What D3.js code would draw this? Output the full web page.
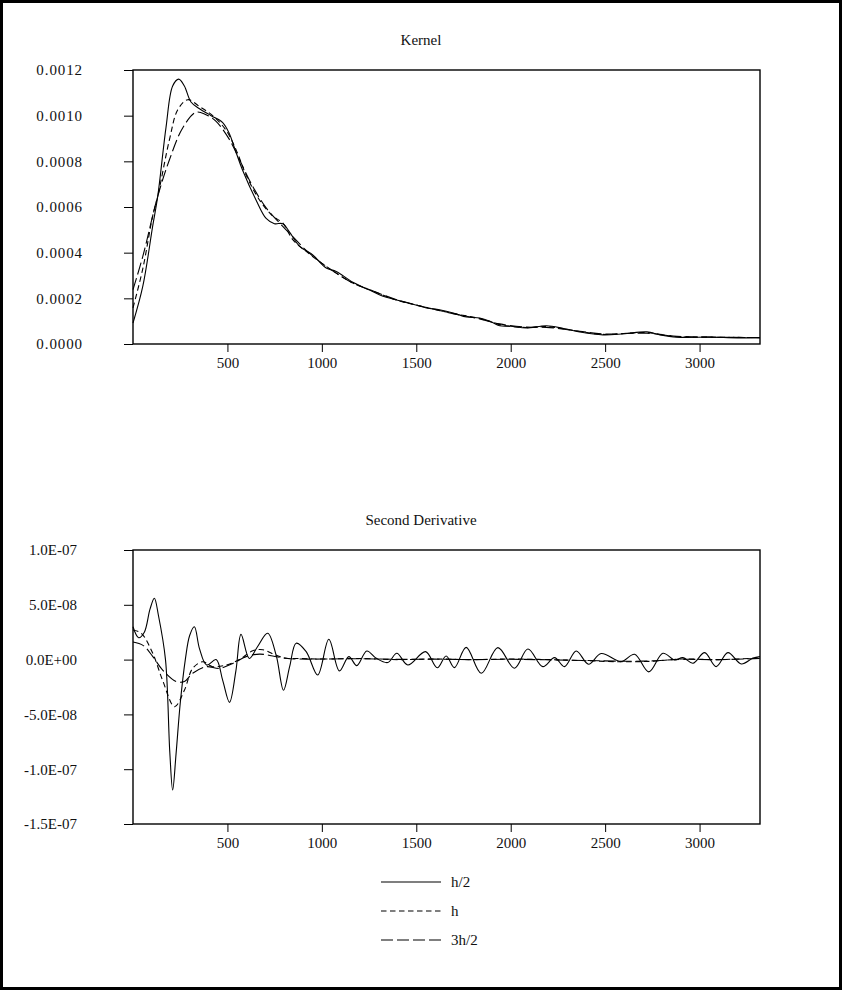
<!DOCTYPE html>
<html>
<head>
<meta charset="utf-8">
<script src="https://cdn.jsdelivr.net/npm/d3@7"></script>
<style>
  body { margin: 0; background: #fff; }
  svg text { font-family: "Liberation Serif", "DejaVu Serif", serif; font-size: 15px; fill: #111; }
</style>
</head>
<body>
<div id="chart"></div>
<script>
// series names, legend order
var seriesNames = ["h/2", "h", "3h/2"];
var xTicks = [500, 1000, 1500, 2000, 2500, 3000];
var kernelTicks = [0, 0.0002, 0.0004, 0.0006, 0.0008, 0.0010, 0.0012];
var derivTicks = [-1.5e-7, -1.0e-7, -5.0e-8, 0, 5.0e-8, 1.0e-7];

// Kernel estimates: [x, density]
var kernelHalf = [[0,0.000092],[52,0.000253],[104,0.000515],[131,0.000647],[175,0.00095],[210,0.00113],[242,0.00116],
  [272,0.00113],[307,0.00106],[352,0.00103],[414,0.00100],[475,0.00097],[511,0.00092],[537,0.00086],[581,0.00076],
  [652,0.00063],[705,0.00055],[749,0.000527],[793,0.000527],[829,0.00049],[882,0.000428],[952,0.00039],[1023,0.000333],
  [1076,0.000318],[1164,0.00027],[1253,0.000236],[1320,0.00021],[1396,0.000193],[1480,0.000175],[1554,0.000158],
  [1623,0.00015],[1700,0.000135],[1766,0.000118],[1836,0.000114],[1890,0.0001],[1942,0.00008],[2000,0.000078],
  [2083,0.00007],[2189,0.00008],[2280,0.000068],[2365,0.000053],[2488,0.00004],[2600,0.000045],[2721,0.000053],
  [2790,0.00004],[2880,0.00003],[3055,0.00003],[3200,0.000027],[3320,0.000028]];
var kernelH = [[0,0.000158],[52,0.00033],[104,0.00056],[131,0.000647],[193,0.000895],[237,0.001026],[290,0.00107],
  [352,0.00104],[422,0.001],[493,0.000936],[546,0.00085],[599,0.00074],[669,0.000632],[740,0.00056],[793,0.00053],
  [846,0.000457],[917,0.000406],[1023,0.00034],[1164,0.000267],[1253,0.000238],[1396,0.000192],[1554,0.00016],
  [1700,0.000133],[1836,0.000112],[1942,0.000085],[2083,0.000072],[2189,0.000076],[2365,0.000055],[2488,0.000042],
  [2721,0.00005],[2880,0.000032],[3055,0.00003],[3320,0.000028]];
var kernelThreeHalf = [[0,0.000238],[52,0.000384],[131,0.000647],[193,0.000807],[263,0.000946],[334,0.001015],
  [387,0.001004],[440,0.000975],[511,0.000895],[564,0.000807],[634,0.00069],[705,0.000596],[776,0.00053],[846,0.00047],
  [917,0.00041],[1023,0.00034],[1164,0.000267],[1253,0.000238],[1396,0.000194],[1554,0.00016],[1700,0.000132],
  [1836,0.00011],[1942,0.000088],[2083,0.000074],[2189,0.000073],[2365,0.000056],[2488,0.000044],[2721,0.000047],
  [2880,0.000034],[3055,0.00003],[3320,0.000028]];

// Second derivative estimates: [x, value]
var derivHalf = [[0,3.0e-8],[30,2.0e-8],[60,2.5e-8],[90,4.6e-8],[113,5.6e-8],[135,4.0e-8],[172,0],[195,-8.5e-8],
  [210,-11.9e-8],[228,-8.6e-8],[250,-4.0e-8],[277,0],[300,2.2e-8],[325,3.0e-8],[352,1.0e-8],[390,-0.5e-8],
  [440,0],[475,-1.9e-8],[511,-3.9e-8],[545,-1.0e-8],[572,2.3e-8],[616,0.1e-8],[660,1.2e-8],[713,2.4e-8],
  [758,0.4e-8],[797,-2.8e-8],[830,-0.6e-8],[864,1.5e-8],[917,0.73e-8],[978,-1.4e-8],[1037,1.85e-8],[1093,-1.03e-8],
  [1143,0.27e-8],[1185,-0.55e-8],[1238,0.79e-8],[1288,0.12e-8],[1349,-0.27e-8],[1397,0.58e-8],[1455,-0.49e-8],
  [1549,0.73e-8],[1611,-0.75e-8],[1658,0.33e-8],[1702,-0.73e-8],[1764,1.12e-8],[1844,-1.25e-8],[1932,1.09e-8],
  [2020,-0.79e-8],[2091,0.97e-8],[2170,-0.64e-8],[2232,0.18e-8],[2285,-0.64e-8],[2347,0.79e-8],[2412,-0.42e-8],
  [2479,0.55e-8],[2585,-0.18e-8],[2656,0.49e-8],[2731,-1.12e-8],[2806,0.58e-8],[2868,-0.03e-8],[2912,0.18e-8],
  [2965,-0.33e-8],[3027,0.64e-8],[3088,-0.64e-8],[3150,0.64e-8],[3221,-0.4e-8],[3282,0.12e-8],[3320,0.27e-8]];
var derivH = [[0,2.7e-8],[44,2.4e-8],[104,0.6e-8],[157,-1.9e-8],[220,-4.3e-8],[272,-2.8e-8],[316,-0.8e-8],
  [369,-0.2e-8],[422,-0.65e-8],[493,-0.5e-8],[563,0],[634,0.8e-8],[687,0.9e-8],[758,0.4e-8],[811,0.12e-8],
  [881,0.1e-8],[1000,0.05e-8],[1200,0.1e-8],[1400,0],[1600,0.05e-8],[1800,0],[2000,0.05e-8],[2200,0],
  [2400,-0.1e-8],[2600,-0.2e-8],[2750,-0.15e-8],[2900,0.05e-8],[3100,0],[3320,0.15e-8]];
var derivThreeHalf = [[0,1.6e-8],[53,1.3e-8],[104,0.3e-8],[157,-0.95e-8],[228,-2.0e-8],[272,-2.0e-8],[316,-1.25e-8],
  [387,-0.65e-8],[458,-0.8e-8],[528,-0.35e-8],[599,0.27e-8],[670,0.5e-8],[740,0.33e-8],[811,0.12e-8],[881,0.05e-8],
  [1000,0.05e-8],[1200,0.08e-8],[1400,0.02e-8],[1600,0.04e-8],[1800,0],[2000,0.03e-8],[2200,-0.02e-8],
  [2400,-0.08e-8],[2600,-0.15e-8],[2750,-0.12e-8],[2900,0.02e-8],[3100,0],[3320,0.1e-8]];

var dashes = [null, "5.5,3.5", "12,4"];

var svg = d3.select("#chart").append("svg")
  .attr("width", 842)
  .attr("height", 990);

// outer frame
svg.append("rect")
  .attr("x", 1.5).attr("y", 1.5)
  .attr("width", 839).attr("height", 987)
  .attr("fill", "none").attr("stroke", "#000").attr("stroke-width", 3);

var x = d3.scaleLinear().domain([0, 3320]).range([133, 760]);

function drawPanel(title, top, yDomain, ticks, fmt, pad, spacing, series) {
  var bottom = top + 274;
  var y = d3.scaleLinear().domain(yDomain).range([bottom, top]);

  svg.append("text")
    .attr("x", 421).attr("y", top - 25)
    .attr("text-anchor", "middle")
    .text(title);

  var line = d3.line()
    .x(function(d){ return x(d[0]); })
    .y(function(d){ return y(d[1]); })
    .curve(d3.curveCatmullRom.alpha(0.5));

  var g = svg.append("g");
  series.forEach(function(s, i) {
    g.append("path")
      .datum(s)
      .attr("d", line)
      .attr("fill", "none")
      .attr("stroke", "#000")
      .attr("stroke-width", 1.1)
      .attr("stroke-dasharray", dashes[i]);
  });

  var xAxis = d3.axisBottom(x).tickValues(xTicks).tickFormat(d3.format("d"))
    .tickSize(8).tickSizeOuter(0).tickPadding(5);
  var yAxis = d3.axisLeft(y).tickValues(ticks).tickFormat(fmt)
    .tickSize(9).tickSizeOuter(0).tickPadding(pad);

  var xa = svg.append("g").attr("transform", "translate(0," + bottom + ")").call(xAxis);
  var ya = svg.append("g").attr("transform", "translate(133,0)").call(yAxis);
  [xa, ya].forEach(function(a) {
    a.select(".domain").remove();
    a.selectAll("line").attr("stroke", "#000").attr("stroke-width", 1);
    a.selectAll("text").attr("font-size", null).attr("font-family", null).attr("fill", null);
  });
  ya.selectAll("text").style("letter-spacing", spacing + "px");

  svg.append("rect")
    .attr("x", 133).attr("y", top)
    .attr("width", 627).attr("height", 274)
    .attr("fill", "none").attr("stroke", "#000").attr("stroke-width", 1.4);
}

function sciFmt(v) {
  if (v === 0) return "0.0E+00";
  var e = Math.floor(Math.log10(Math.abs(v)) + 1e-9);
  var m = v / Math.pow(10, e);
  var es = (e < 0 ? "-" : "+") + (Math.abs(e) < 10 ? "0" : "") + Math.abs(e);
  return m.toFixed(1) + "E" + es;
}

drawPanel("Kernel", 70, [0, 0.0012], kernelTicks, d3.format(".4f"), 41, 0.9,
  [kernelHalf, kernelH, kernelThreeHalf]);
drawPanel("Second Derivative", 550, [-1.5e-7, 1.0e-7], derivTicks, sciFmt, 47, 0,
  [derivHalf, derivH, derivThreeHalf]);

// legend
var legend = svg.append("g");
seriesNames.forEach(function(name, i) {
  var ly = 882 + i * 29;
  legend.append("line")
    .attr("x1", 381).attr("x2", 441)
    .attr("y1", ly).attr("y2", ly)
    .attr("stroke", "#000").attr("stroke-width", 1.1)
    .attr("stroke-dasharray", dashes[i]);
  legend.append("text")
    .attr("x", 451).attr("y", ly + 5)
    .text(name);
});
</script>
</body>
</html>
